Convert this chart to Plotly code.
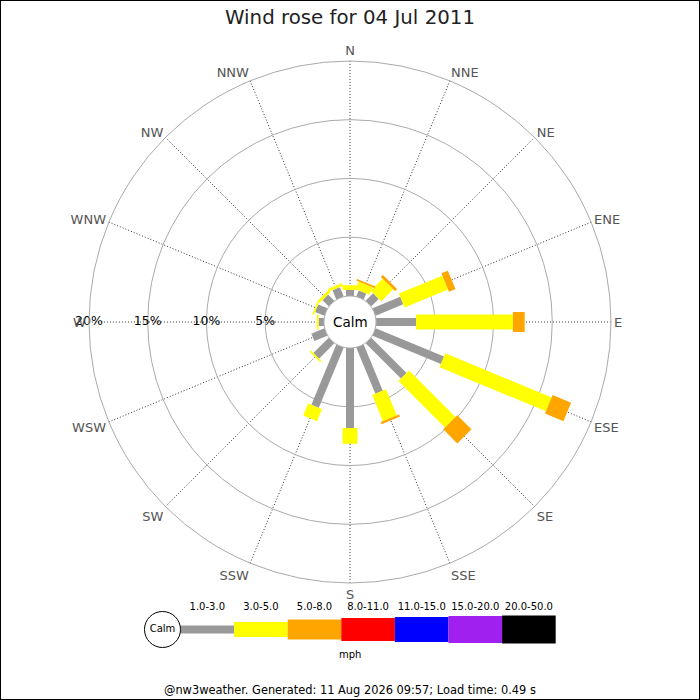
import plotly.graph_objects as go

# wind directions (compass points) and their angles
directions = ["N", "NNE", "NE", "ENE", "E", "ESE", "SE", "SSE",
              "S", "SSW", "SW", "WSW", "W", "WNW", "NW", "NNW"]
angles = [i * 22.5 for i in range(16)]

# speed bins (mph) and colours
bin_labels = ["1.0-3.0", "3.0-5.0", "5.0-8.0", "8.0-11.0", "11.0-15.0", "15.0-20.0", "20.0-50.0"]
bin_colors = ["#999999", "#ffff00", "#ffa500", "#ff0000", "#0000ff", "#a020f0", "#000000"]
bin_widths = [8, 15, 20, 23, 25, 27, 28]

# percentage of time per direction for each speed bin
pct_1_3 = [0.50, 0.55, 0.90, 2.55, 3.40, 6.30, 4.25, 4.25, 6.80, 5.55, 1.85, 1.20, 0.45, 0.85, 0.75, 0.85]
pct_3_5 = [0.40, 0.70, 1.45, 4.00, 8.25, 9.80, 5.60, 2.40, 1.35, 1.10, 0.15, 0.00, 0.15, 0.15, 0.25, 0.25]
pct_5_8 = [0.00, 0.15, 0.25, 0.60, 1.00, 1.70, 1.70, 0.20, 0.00, 0.00, 0.00, 0.00, 0.00, 0.00, 0.00, 0.00]
pct_8_11 = [0.0] * 16
pct_11_15 = [0.0] * 16
pct_15_20 = [0.0] * 16
pct_20_50 = [0.0] * 16
series = [pct_1_3, pct_3_5, pct_5_8, pct_8_11, pct_11_15, pct_15_20, pct_20_50]

radial_ticks = [5, 10, 15, 20]

FONT = "DejaVu Sans"

fig = go.Figure()

# stacked rose segments, one trace per speed bin
base = [0.0] * 16
for vals, color, w in zip(series, bin_colors, bin_widths):
    r, th = [], []
    for i in range(16):
        if vals[i] > 0:
            r += [base[i], base[i] + vals[i], None]
            th += [angles[i], angles[i], None]
        base[i] += vals[i]
    if r:
        fig.add_trace(go.Scatterpolar(
            r=r, theta=th, mode="lines",
            line=dict(color=color, width=w),
            connectgaps=False, hoverinfo="skip", showlegend=False
        ))

# percentage labels along the W spoke
fig.add_trace(go.Scatterpolar(
    r=radial_ticks, theta=[270] * len(radial_ticks), mode="text",
    text=[f"{v}%" for v in radial_ticks],
    textfont=dict(family=FONT, size=12.5, color="black"),
    hoverinfo="skip", showlegend=False
))

# legend strip at the bottom (pixel-like axis)
leg_x0 = 180.5
leg_step = 53.6
leg_y = 629.5
for i, (lab, color, w) in enumerate(zip(bin_labels, bin_colors, bin_widths)):
    xa = leg_x0 + i * leg_step
    fig.add_trace(go.Scatter(
        x=[xa, xa + leg_step], y=[leg_y, leg_y], mode="lines",
        line=dict(color=color, width=w),
        hoverinfo="skip", showlegend=False, xaxis="x", yaxis="y"
    ))
fig.add_trace(go.Scatter(
    x=[leg_x0 + (i + 0.5) * leg_step for i in range(len(bin_labels))],
    y=[607.5] * len(bin_labels), mode="text", text=bin_labels,
    textfont=dict(family=FONT, size=10, color="black"),
    hoverinfo="skip", showlegend=False
))
fig.add_trace(go.Scatter(
    x=[leg_x0 - 18], y=[leg_y], mode="markers+text", text=["Calm"],
    textposition="middle center",
    marker=dict(size=36, color="white", line=dict(color="black", width=1)),
    textfont=dict(family=FONT, size=10, color="black"),
    hoverinfo="skip", showlegend=False
))

fig.update_layout(
    width=700, height=700,
    margin=dict(l=0, r=0, t=0, b=0),
    paper_bgcolor="white",
    plot_bgcolor="rgba(0,0,0,0)",
    template="none",
    title=dict(text="Wind rose for 04 Jul 2011", x=0.5, xanchor="center",
               y=1 - 17 / 700, yanchor="middle",
               font=dict(family=FONT, size=19.8, color="#222222")),
    xaxis=dict(range=[0, 700], visible=False, domain=[0, 1], fixedrange=True),
    yaxis=dict(range=[700, 0], visible=False, domain=[0, 1], fixedrange=True),
    polar=dict(
        domain=dict(x=[89 / 700, 611 / 700], y=[1 - 583 / 700, 1 - 61 / 700]),
        hole=0.1,
        bgcolor="white",
        radialaxis=dict(range=[0, 20], tickvals=radial_ticks, showticklabels=False,
                        showline=False, ticks="", gridcolor="#aaaaaa", gridwidth=1),
        angularaxis=dict(rotation=90, direction="clockwise", tickmode="array",
                         tickvals=angles, ticktext=directions, ticks="",
                         showline=True, linecolor="#aaaaaa", linewidth=1,
                         gridcolor="#333333", gridwidth=1, griddash="1px,2px",
                         tickfont=dict(family=FONT, size=13, color="#555555")),
    ),
    annotations=[
        dict(text="Calm", x=0.5, y=1 - 322 / 700, xref="paper", yref="paper",
             xanchor="center", yanchor="middle",
             showarrow=False, font=dict(family=FONT, size=13.5, color="black")),
        dict(text="mph", x=350 / 700, y=1 - 654 / 700, xref="paper", yref="paper",
             xanchor="center", yanchor="middle",
             showarrow=False, font=dict(family=FONT, size=10, color="black")),
        dict(text="@nw3weather. Generated: 11 Aug 2026 09:57; Load time: 0.49 s",
             x=0.5, y=1 - 690 / 700, xref="paper", yref="paper",
             xanchor="center", yanchor="middle",
             showarrow=False, font=dict(family=FONT, size=11.4, color="black")),
    ],
    shapes=[dict(type="rect", xref="paper", yref="paper", x0=0, y0=0, x1=1, y1=1,
                 line=dict(color="black", width=2))],
)

# the page body has a default 8px margin; drop it so the chart fills the window
fig.write_html("out.html", config={"displayModeBar": False},
               post_script="document.body.style.margin='0px';")
